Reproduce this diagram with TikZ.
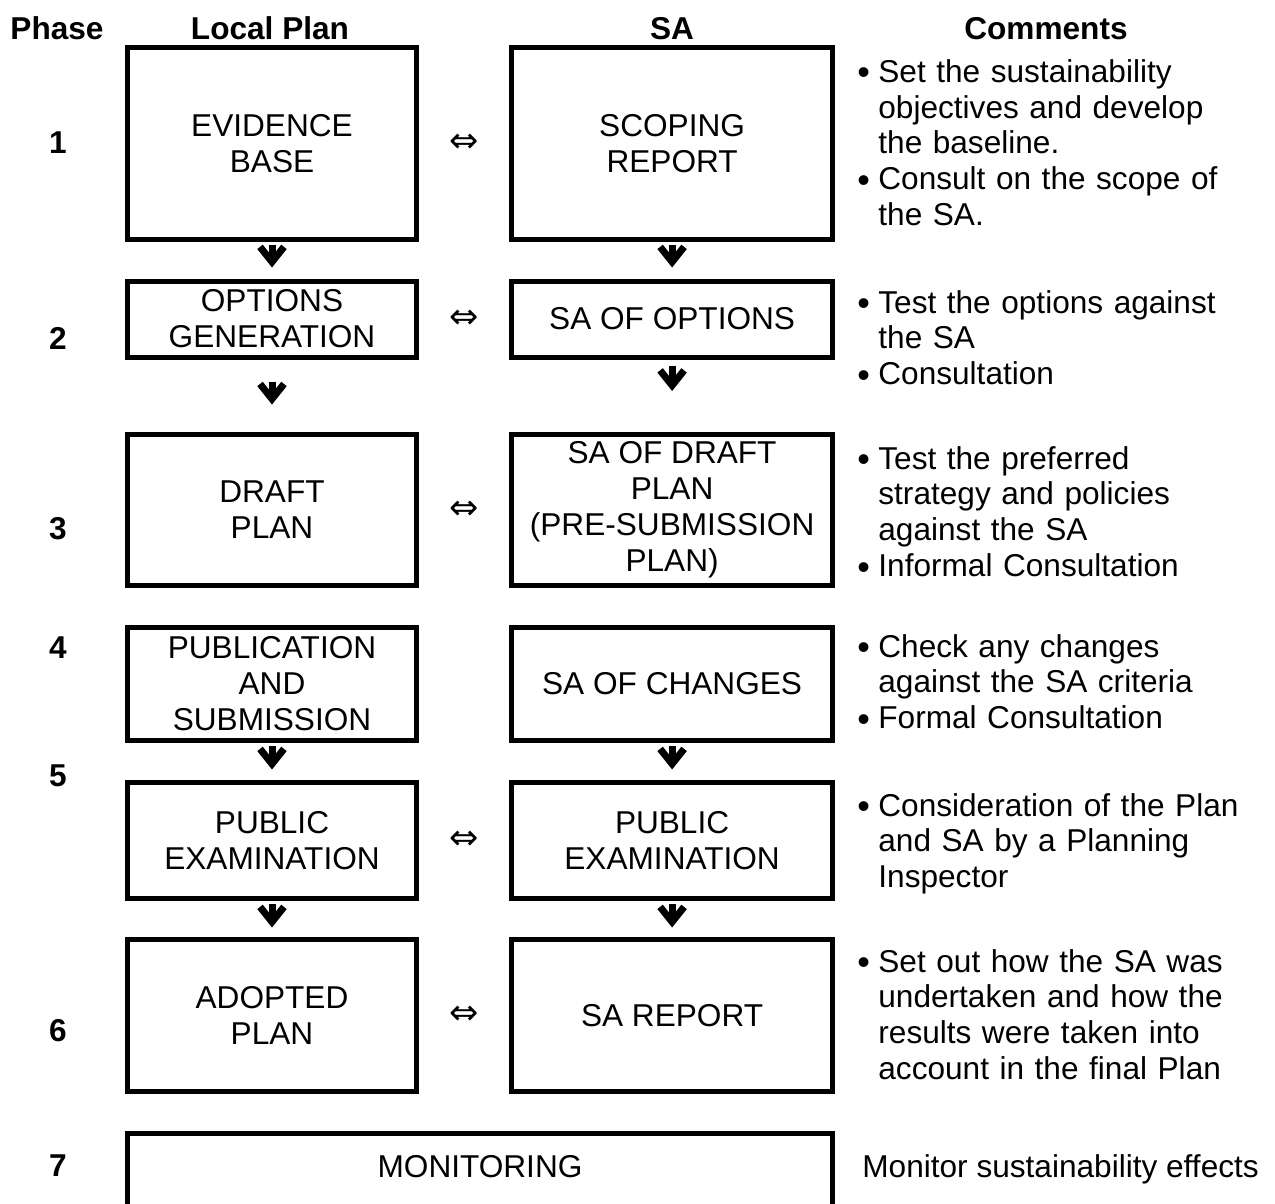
\documentclass[tikz,border=0pt]{standalone}
\usepackage{fontspec}
\setmainfont{Liberation Sans}
\newfontfamily\dejavu{DejaVu Sans}
\usetikzlibrary{arrows.meta,calc}
\newcommand{\bul}{\makebox[10.5pt][l]{\raisebox{-1.3pt}{\fontsize{18}{18}\selectfont •}}}
\newcommand{\ind}{\hspace*{10.5pt}}
\begin{document}
\begin{tikzpicture}[x=0.5pt,y=-0.5pt,
  txt/.style={font=\fontsize{15.8}{17.9}\selectfont},
  box/.style={txt, draw, line width=2.5pt, inner sep=0pt, align=center},
  lbox/.style={box, minimum width=144.5pt},
  rbox/.style={box, minimum width=160.4pt},
  arr/.style={line width=3.5pt, -{Straight Barb[length=7.5pt,width=12pt]}},
  hdr/.style={txt, font=\fontsize{15.8}{17.9}\selectfont\bfseries, anchor=base, inner sep=0pt},
  num/.style={hdr},
  dbl/.style={font=\dejavu\fontsize{17.5}{18}\selectfont, inner sep=0pt},
  cmt/.style={txt, anchor=base west, inner sep=0pt, text width=220pt, align=left}
]
\clip (0,0) rectangle (1275,1204);

% headers
\node[hdr] (hphase) at (57,39.5) {Phase};
\node[hdr] (hlocal) at (270,39.5) {Local Plan};
\node[hdr] (hsa) at (672,39.5) {SA};
\node[hdr] (hcom) at (1046,39.5) {Comments};

% phase numbers
\node[num] (p1) at (58,154) {1};
\node[num] (p2) at (58,349) {2};
\node[num] (p3) at (58,539) {3};
\node[num] (p4) at (58,658) {4};
\node[num] (p5) at (58,786) {5};
\node[num] (p6) at (58,1041) {6};
\node[num] (p7) at (58,1176) {7};

% boxes
\node[lbox, minimum height=95.75pt] (b1) at (272,143.25) {EVIDENCE\\BASE};
\node[rbox, minimum height=95.75pt] (r1) at (672.1,143.25) {SCOPING\\REPORT};
\node[lbox, minimum height=38pt] (b2) at (272,319) {OPTIONS\\GENERATION};
\node[rbox, minimum height=38pt] (r2) at (672.1,319) {SA OF OPTIONS};
\node[lbox, minimum height=75.15pt] (b3) at (272,509.9) {DRAFT\\PLAN};
\node[rbox, minimum height=75.15pt] (r3) at (672.1,509.9) {SA OF DRAFT\\PLAN\\(PRE-SUBMISSION\\PLAN)};
\node[lbox, minimum height=56.25pt] (b4) at (272,683.75) {PUBLICATION\\AND\\SUBMISSION};
\node[rbox, minimum height=56.25pt] (r4) at (672.1,683.75) {SA OF CHANGES};
\node[lbox, minimum height=57.75pt] (b5) at (272,840.25) {PUBLIC\\EXAMINATION};
\node[rbox, minimum height=57.75pt] (r5) at (672.1,840.25) {PUBLIC\\EXAMINATION};
\node[lbox, minimum height=76.25pt] (b6) at (272,1015.25) {ADOPTED\\PLAN};
\node[rbox, minimum height=76.25pt] (r6) at (672.1,1015.25) {SA REPORT};
\node[box, minimum width=352.5pt, minimum height=43.25pt] (b7) at (480,1176.75) {};
\node[txt, anchor=base, inner sep=0pt] (b7t) at (480,1177) {MONITORING};

% double arrows
\node[dbl] (e1) at ($(b1.east)!0.5!(r1.west)$) {⇔};
\node[dbl] (e2) at ($(b2.east)!0.5!(r2.west)$) {⇔};
\node[dbl] (e3) at ($(b3.east)!0.5!(r3.west)$) {⇔};
\node[dbl] (e5) at ($(b5.east)!0.5!(r5.west)$) {⇔};
\node[dbl] (e6) at ($(b6.east)!0.5!(r6.west)$) {⇔};

% vertical arrows
\coordinate (r2end) at (672.1,391);
\draw[arr] ([yshift=-1.75pt]b1.south) -- ([yshift=5.5pt]b2.north);
\draw[arr] ([yshift=-1.75pt]r1.south) -- ([yshift=5.5pt]r2.north);
\draw[arr] ([yshift=-11pt]b2.south) -- ([yshift=13.85pt]b3.north);
\draw[arr] ([yshift=-3pt]r2.south) -- (r2end);
\draw[arr] ([yshift=-1.75pt]b4.south) -- ([yshift=5.25pt]b5.north);
\draw[arr] ([yshift=-1.75pt]r4.south) -- ([yshift=5.25pt]r5.north);
\draw[arr] ([yshift=-1.75pt]b5.south) -- ([yshift=4.5pt]b6.north);
\draw[arr] ([yshift=-1.75pt]r5.south) -- ([yshift=4.5pt]r6.north);

% comments
\node[cmt] (c1) at (857,82.3) {\bul Set the sustainability\\\ind objectives and develop\\\ind the baseline.\\\bul Consult on the scope of\\\ind the SA.};
\node[cmt] (c2) at (857,313) {\bul Test the options against\\\ind the SA\\\bul Consultation};
\node[cmt] (c3) at (857,469) {\bul Test the preferred\\\ind strategy and policies\\\ind against the SA\\\bul Informal Consultation};
\node[cmt] (c4) at (857,657) {\bul Check any changes\\\ind against the SA criteria\\\bul Formal Consultation};
\node[cmt] (c5) at (857,816) {\bul Consideration of the Plan\\\ind and SA by a Planning\\\ind Inspector};
\node[cmt] (c6) at (857,972) {\bul Set out how the SA was\\\ind undertaken and how the\\\ind results were taken into\\\ind account in the final Plan};
\node[txt, anchor=base west, inner sep=0pt] (c7) at (862,1177) {Monitor sustainability effects};
\end{tikzpicture}
\end{document}
